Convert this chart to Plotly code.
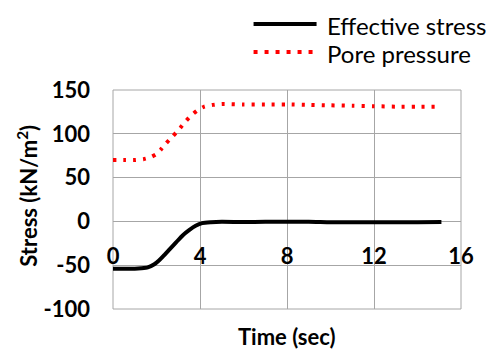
import plotly.graph_objects as go

# ---- data ----
eff_time = [0, 0.5, 1.0, 1.3, 1.6, 1.9, 2.1, 2.3, 2.6, 2.9, 3.2, 3.5, 3.8, 4.1, 4.5,
            5, 6, 7, 8, 9, 10, 11, 12, 13, 14, 15.1]
eff_stress = [-54, -54, -54, -53.5, -52.5, -49, -45, -40, -32, -24, -16, -10, -5, -2, -1,
              -0.5, -0.8, -0.5, -0.5, -0.3, -1, -1, -1, -1, -1, -0.8]

pore_time = [0, 0.5, 1.0, 1.4, 1.7, 2.0, 2.2, 2.4, 2.7, 3.0, 3.3, 3.6, 3.9, 4.2, 4.6,
             5.0, 6, 7, 8, 9, 10, 11, 12, 13, 14, 14.8]
pore_pressure = [70, 70, 70, 71, 73, 77, 82, 88, 96, 104, 113, 121, 127, 131, 133,
                 134, 133.5, 133.5, 133.5, 133, 132.5, 132, 131.5, 131, 131, 131]

series_names = ["Effective stress", "Pore pressure"]
x_ticks = [0, 4, 8, 12, 16]
x_labels = ["0", "4", "8", "12", "16"]
y_ticks = [-100, -50, 0, 50, 100, 150]
y_labels = ["-100", "-50", "0", "50", "100", "150"]

# ---- layout geometry (pixels) ----
W, H = 486, 349
L, R, T, B = 113, 14, 90, 40
PW, PH = W - L - R, H - T - B


def px(x):
    return (x - L) / PW


def py(y):
    return (H - B - y) / PH


FONT = "Lato"
GRID = "#a6a6a6"

fig = go.Figure()
fig.add_trace(go.Scatter(x=eff_time, y=eff_stress, mode="lines",
                         name=series_names[0], showlegend=False,
                         line=dict(color="black", width=4, shape="spline",
                                   smoothing=0.6)))
fig.add_trace(go.Scatter(x=pore_time, y=pore_pressure, mode="lines",
                         name=series_names[1], showlegend=False,
                         line=dict(color="red", width=4, dash="3px,7px",
                                   shape="spline", smoothing=0.6)))

shapes = [
    dict(type="rect", xref="paper", yref="paper", x0=0, x1=1, y0=0, y1=1,
         line=dict(color=GRID, width=1), layer="below"),
    # legend samples
    dict(type="line", xref="paper", yref="paper", x0=px(258), x1=px(323),
         y0=py(24), y1=py(24), line=dict(color="black", width=4)),
    dict(type="line", xref="paper", yref="paper", x0=px(258), x1=px(320),
         y0=py(52), y1=py(52), line=dict(color="red", width=4, dash="4px,7px")),
]

annotations = [
    dict(text=series_names[0], xref="paper", yref="paper", x=px(332), y=py(25),
         xanchor="left", yanchor="middle", showarrow=False,
         font=dict(family=FONT, size=24, color="black")),
    dict(text=series_names[1], xref="paper", yref="paper", x=px(332), y=py(53),
         xanchor="left", yanchor="middle", showarrow=False,
         font=dict(family=FONT, size=24, color="black")),
    dict(text="<b>Stress (kN/m<sup>2</sup>)</b>", xref="paper", yref="paper",
         x=px(24), y=py(196), xanchor="center", yanchor="middle",
         textangle=-90, showarrow=False,
         font=dict(family=FONT, size=22, color="black")),
    dict(text="<b>Time (sec)</b>", xref="paper", yref="paper",
         x=px(292), y=py(336), xanchor="center", yanchor="middle",
         showarrow=False, font=dict(family=FONT, size=22, color="black")),
]

fig.update_layout(
    width=W, height=H,
    margin=dict(l=L, r=R, t=T, b=B, pad=0),
    paper_bgcolor="white", plot_bgcolor="white",
    showlegend=False,
    shapes=shapes, annotations=annotations,
    xaxis=dict(range=[0, 16], tickvals=x_ticks, ticktext=x_labels,
               showgrid=True, gridcolor=GRID,
               gridwidth=1, zeroline=False, showline=False,
               anchor="free", position=py(241),
               tickfont=dict(family=FONT, size=22, color="black", weight="bold")),
    yaxis=dict(range=[-100, 150], tickvals=y_ticks, ticktext=y_labels,
               showgrid=True,
               gridcolor=GRID, gridwidth=1, zeroline=False, showline=False,
               ticklabelstandoff=22,
               tickfont=dict(family=FONT, size=22, color="black", weight="bold")),
)

fig.write_html("out.html")
